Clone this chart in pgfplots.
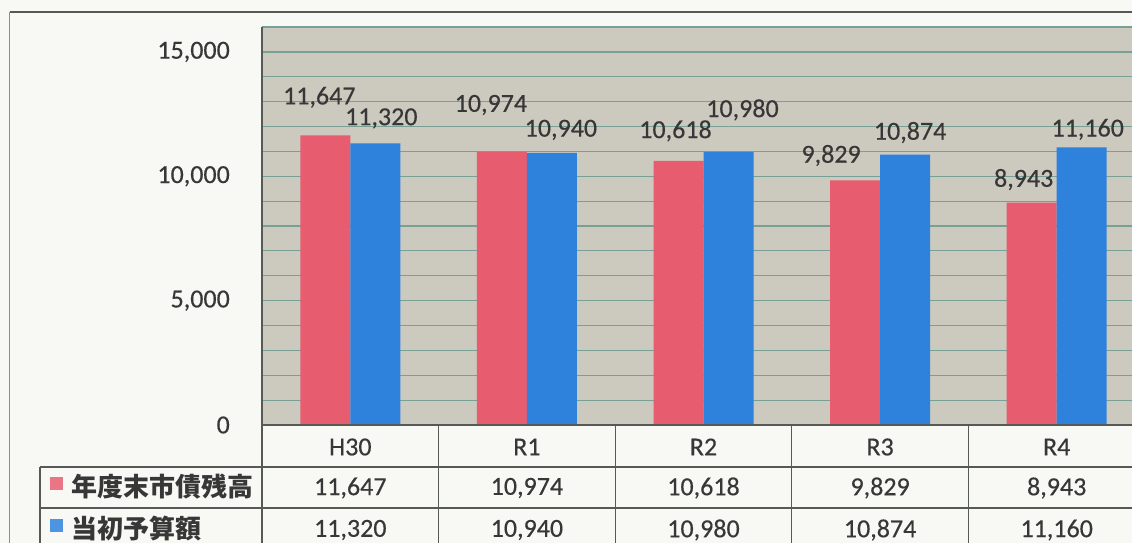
\documentclass[border=0pt]{standalone}
\usepackage{pgfplots}
\usepackage{pgfplotstable}
\pgfplotsset{compat=1.18}
\usepackage{fontspec}
\setmainfont{Carlito}[FakeBold=0.4]
\newfontfamily\jpfont{Noto Sans CJK JP}
\definecolor{pinkbar}{RGB}{231,92,110}
\definecolor{bluebar}{RGB}{46,130,220}
\definecolor{plotbg}{RGB}{204,201,191}
\definecolor{gridc}{RGB}{120,160,150}
\definecolor{txt}{RGB}{55,55,55}
\definecolor{pagebg}{RGB}{248,248,244}
\definecolor{tabline}{RGB}{85,90,85}

\pgfplotstableread{
x debt budget dxa dya dxb dyb
0 11647 11320 -6 38 6 25
1 10974 10940 -11 47 9 23
2 10618 10980 -3 30 14 42
3 9829 10874 -24 25 5 22
4 8943 11160 -8 23 6 18
}\data

\begin{document}
\begin{tikzpicture}[x=1pt,y=1pt]
\path[use as bounding box] (0,0) rectangle (1132,543);
\clip (0,0) rectangle (1132,543);
\fill[pagebg] (0,0) rectangle (1132,543);
\begin{axis}[
  at={(262pt,118pt)}, anchor=south west,
  width=883pt, height=398pt, scale only axis,
  xmin=-0.5, xmax=4.5, ymin=0, ymax=16000,
  axis background/.style={fill=plotbg},
  axis line style={draw=none},
  scaled y ticks=false,
  ytick={0,5000,10000,15000},
  minor ytick={1000,2000,3000,4000,6000,7000,8000,9000,11000,12000,13000,14000,16000},
  ymajorgrids, yminorgrids,
  major grid style={gridc, line width=1.3pt},
  minor grid style={gridc, line width=1.1pt},
  major tick length=0pt, minor tick length=0pt,
  xtick=data, xticklabels={H30,R1,R2,R3,R4},
  xticklabel style={anchor=center, yshift=-22pt, font=\fontsize{26}{30}\selectfont, text=txt},
  yticklabel style={anchor=east, inner sep=0pt, xshift=-32pt, font=\fontsize{26}{30}\selectfont, text=txt},
  ybar=0pt, bar width=50pt,
  /pgf/number format/1000 sep={,},
  /pgf/number format/assume math mode=true,
  nodes near coords,
  nodes near coords style={font=\fontsize{26}{30}\selectfont, text=txt},
  clip=false,
]
\addplot[fill=pinkbar, draw=none,
  visualization depends on={\thisrow{dxa}\as\ldx},
  visualization depends on={\thisrow{dya}\as\ldy},
  every node near coord/.append style={anchor=center, xshift={\ldx*1pt}, yshift={\ldy*1pt}}]
  table[x=x,y=debt]{\data};
\addplot[fill=bluebar, draw=none,
  visualization depends on={\thisrow{dxb}\as\ldx},
  visualization depends on={\thisrow{dyb}\as\ldy},
  every node near coord/.append style={anchor=center, xshift={\ldx*1pt}, yshift={\ldy*1pt}}]
  table[x=x,y=budget]{\data};
\end{axis}
% outer frame
\draw[tabline, line width=1.4pt] (10,531) -- (1132,531);
\draw[gridc!70!gray, line width=1pt] (9.5,531) -- (9.5,0);
% table lines
\draw[tabline, line width=1.3pt] (262,516) -- (262,0);
\draw[tabline, line width=1.3pt] (262,118) -- (1132,118);
\draw[tabline, line width=1.3pt] (40,76) -- (1132,76);
\draw[tabline, line width=1.3pt] (40,35) -- (1132,35);
\draw[tabline, line width=1.3pt] (40,76) -- (40,0);
\foreach \k in {1,2,3,4} {
  \draw[tabline, line width=1.3pt] ({262+176.6*\k},118) -- ({262+176.6*\k},0);
}
% legend cells
\fill[pinkbar!85!white] (50,53) rectangle (63,66);
\fill[bluebar!85!white] (50,11) rectangle (63,24);
\node[anchor=west, inner sep=0pt, text=txt, font=\jpfont\bfseries\fontsize{26}{30}\selectfont] at (71,56) {年度末市債残高};
\node[anchor=west, inner sep=0pt, text=txt, font=\jpfont\bfseries\fontsize{26}{30}\selectfont] at (71,14) {当初予算額};
% table values
\foreach \k in {0,...,4} {
  \pgfplotstablegetelem{\k}{debt}\of\data
  \node[text=txt, font=\fontsize{26}{30}\selectfont] at ({262+176.6*(\k+0.5)},55) {\pgfmathprintnumber[1000 sep={,}, assume math mode=true]{\pgfplotsretval}};
  \pgfplotstablegetelem{\k}{budget}\of\data
  \node[text=txt, font=\fontsize{26}{30}\selectfont] at ({262+176.6*(\k+0.5)},13) {\pgfmathprintnumber[1000 sep={,}, assume math mode=true]{\pgfplotsretval}};
}
\end{tikzpicture}
\end{document}
